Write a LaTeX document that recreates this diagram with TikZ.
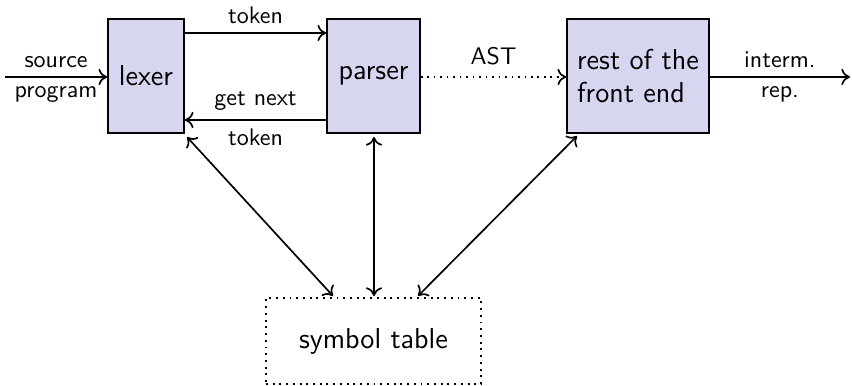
\documentclass[tikz,border=0pt]{standalone}
\usepackage{tikz}
\usetikzlibrary{calc,arrows.meta}
\definecolor{boxfill}{RGB}{214,214,240}
\begin{document}
\begin{tikzpicture}[x=0.41667pt,y=-0.41667pt,
  font=\sffamily,
  >={Computer Modern Rightarrow[length=3.6pt,width=6.8pt]},
  stage/.style={draw=black,fill=boxfill,inner sep=0pt,minimum height=47.5pt,font=\sffamily\large,line width=0.7pt},
  symbox/.style={draw=black,dotted,inner sep=0pt,minimum width=89.6pt,minimum height=35.8pt,font=\sffamily\large,line width=0.8pt},
  conn/.style={->,line width=0.7pt},
  lbl/.style={font=\sffamily,inner sep=3.5pt}]
\useasboundingbox (0,0) rectangle (852,386);
\node[stage,minimum width=31.67pt] (lexer) at (146,76) {lexer};
\node[stage,minimum width=38.75pt] (parser) at (373.5,76) {parser};
\node[stage,minimum width=59.17pt,align=left] (rest) at (638,76) {rest of the\\front end};
\node[symbox] (sym) at (373.5,341) {symbol table};
\coordinate (src) at (5,77);
\coordinate (out) at (850,77);
\draw[conn] (src) -- (src -| lexer.west)
  node[lbl,midway,above] {source} node[lbl,midway,below] {program};
\draw[conn] (lexer.east |- 0,33) -- (parser.west |- 0,33)
  node[lbl,midway,above] {token};
\draw[conn] (parser.west |- 0,120) -- (lexer.east |- 0,120)
  node[lbl,midway,above] {get next} node[lbl,midway,below] {token};
\draw[conn,dotted] (parser.east |- 0,77) -- (rest.west |- 0,77)
  node[lbl,midway,above,yshift=1pt] {AST};
\draw[conn] (rest.east |- 0,77) -- (out)
  node[lbl,midway,above] {interm.} node[lbl,midway,below] {rep.};
\coordinate (lt) at (187,137);
\coordinate (pt) at (374,137);
\coordinate (rt) at (577,136);
\coordinate (lb) at (333,296);
\coordinate (pb) at (374,296);
\coordinate (rb) at (418,296);
\draw[<->,line width=0.7pt] (lt) -- (lb);
\draw[<->,line width=0.7pt] (pt) -- (pb);
\draw[<->,line width=0.7pt] (rt) -- (rb);
\end{tikzpicture}
\end{document}
